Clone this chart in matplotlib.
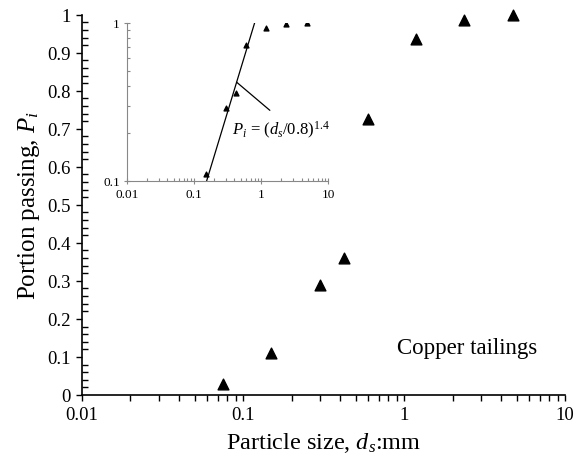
import numpy as np
import matplotlib
matplotlib.use("Agg")
import matplotlib.pyplot as plt
from matplotlib.ticker import LogLocator, MultipleLocator, FixedLocator, NullFormatter

plt.rcParams["font.family"] = ["Liberation Serif", "DejaVu Serif"]
plt.rcParams["mathtext.fontset"] = "custom"
plt.rcParams["mathtext.rm"] = "Liberation Serif"
plt.rcParams["mathtext.it"] = "Liberation Serif:italic"

# measured gradation of copper tailings
d_s = [0.075, 0.15, 0.30, 0.425, 0.60, 1.18, 2.36, 4.75]
P_i = [0.03, 0.11, 0.29, 0.36, 0.725, 0.935, 0.985, 1.0]

# fitted power law P = (d/0.8)^1.4
d_max = 0.8
n_exp = 1.4

x_ticks = [0.01, 0.1, 1, 10]
x_labels = ["0.01", "0.1", "1", "10"]
y_ticks = [0, 0.1, 0.2, 0.3, 0.4, 0.5, 0.6, 0.7, 0.8, 0.9, 1.0]
y_labels = ["0", "0.1", "0.2", "0.3", "0.4", "0.5", "0.6", "0.7", "0.8", "0.9", "1"]

fig = plt.figure(figsize=(5.76, 4.64), dpi=100)
ax = fig.add_axes([0.1424, 0.1466, 0.8386, 0.8196])

ax.scatter(d_s, P_i, marker="^", s=60, color="black", zorder=3, clip_on=False)
ax.set_xscale("log")
ax.set_xlim(0.01, 10)
ax.set_ylim(0, 1)
ax.xaxis.set_major_locator(FixedLocator(x_ticks))
ax.set_xticklabels(x_labels)
ax.xaxis.set_minor_locator(LogLocator(base=10, subs=np.arange(2, 10)))
ax.xaxis.set_minor_formatter(NullFormatter())
ax.yaxis.set_major_locator(FixedLocator(y_ticks))
ax.set_yticklabels(y_labels)
ax.yaxis.set_minor_locator(MultipleLocator(0.02))
ax.tick_params(axis="both", which="major", direction="out", length=4, width=1,
               labelsize=13.5, pad=4)
ax.tick_params(axis="x", which="minor", direction="out", length=4, width=1)
ax.tick_params(axis="y", which="minor", direction="in", length=4, width=1)
for side in ["top", "right"]:
    ax.spines[side].set_visible(False)
for side in ["left", "bottom"]:
    ax.spines[side].set_linewidth(1.2)
ax.set_xlabel("Particle size, $\\mathit{d_s}$:mm", fontsize=17.5, labelpad=5)
ax.set_ylabel("Portion passing, $\\mathit{P_i}$", fontsize=18, labelpad=4)
ax.text(0.797, 0.126, "Copper tailings", transform=ax.transAxes, fontsize=16.5,
        ha="center", va="center")

# inset on log-log axes
ins = fig.add_axes([0.2201, 0.6078, 0.3498, 0.3405])
ins.scatter(d_s[1:], P_i[1:], marker="^", s=12, color="black", zorder=3)
d_fit = np.logspace(np.log10(d_max * 0.1 ** (1 / n_exp)), np.log10(d_max), 50)
ins.plot(d_fit, (d_fit / d_max) ** n_exp, color="black", lw=0.9)
ins.set_xscale("log")
ins.set_yscale("log")
ins.set_xlim(0.01, 10)
ins.set_ylim(0.1, 1)
ins.xaxis.set_major_locator(FixedLocator(x_ticks))
ins.set_xticklabels(x_labels)
ins.xaxis.set_minor_locator(LogLocator(base=10, subs=np.arange(2, 10)))
ins.xaxis.set_minor_formatter(NullFormatter())
ins.yaxis.set_major_locator(FixedLocator([0.1, 1]))
ins.set_yticklabels(["0.1", "1"])
ins.yaxis.set_minor_locator(LogLocator(base=10, subs=np.arange(2, 10)))
ins.yaxis.set_minor_formatter(NullFormatter())
ins.tick_params(axis="both", which="major", direction="inout", length=4,
                width=0.8, color="#888888", labelsize=9.5, pad=3)
ins.tick_params(axis="both", which="minor", direction="in", length=2.5,
                width=0.8, color="#888888")
for side in ["top", "right"]:
    ins.spines[side].set_visible(False)
for side in ["left", "bottom"]:
    ins.spines[side].set_color("#888888")
ins.patch.set_alpha(0)

# leader line from the fit to its label
d_lead = 0.432
ins.annotate("", xy=(d_lead, (d_lead / d_max) ** n_exp), xytext=(1.35, 0.28),
             arrowprops=dict(arrowstyle="-", color="black", lw=0.9,
                             shrinkA=0, shrinkB=0))
ins.text(0.368, 0.213, "$\\mathit{P_i}$ = ($\\mathit{d_s}$/0.8)$^{1.4}$",
         fontsize=12, ha="left", va="center")

fig.savefig("out.png", dpi=100)
